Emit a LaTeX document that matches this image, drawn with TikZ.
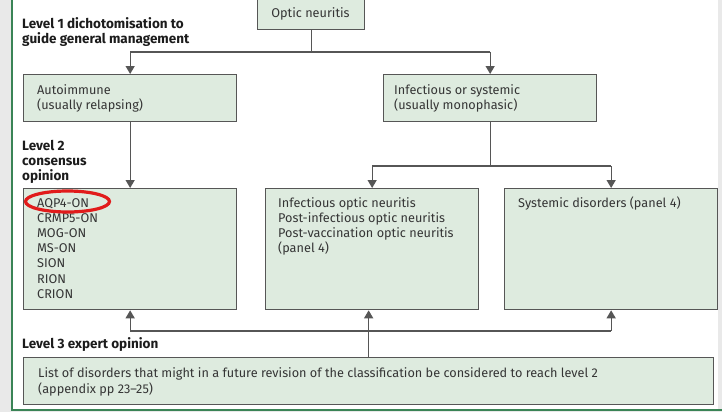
\documentclass[tikz,border=0pt]{standalone}
\usepackage{fontspec}
\setmainfont{Fira Sans}
\usetikzlibrary{arrows.meta}
\definecolor{boxfill}{HTML}{DEEBDF}
\definecolor{boxline}{HTML}{565656}
\definecolor{bodytext}{HTML}{353535}
\definecolor{headtext}{HTML}{1C1C1C}
\definecolor{frame}{HTML}{3A8456}
\definecolor{pagegrey}{HTML}{E9E9E9}
\definecolor{marker}{HTML}{E11B1B}
\tikzset{
  % multi-line nodes are placed by the baseline of their last line
  box/.style={draw=boxline, fill=boxfill, line width=1.3pt, anchor=north west, inner sep=0pt},
  body/.style={anchor=base west, inner sep=0pt, align=left, text=bodytext,
    font=\fontsize{12.7}{15.2}\selectfont},
  head/.style={anchor=base west, inner sep=0pt, align=left, text=headtext,
    font=\fontsize{13.5}{15}\selectfont\bfseries},
  conn/.style={draw=boxline, line width=1.3pt},
  tip/.style={-{Triangle[width=9pt,length=8pt]}},
}
\begin{document}
\begin{tikzpicture}[x=1pt,y=-1pt]
\clip (0,0) rectangle (722,412);
% page background and frame
\fill[pagegrey] (0,0) rectangle (722,412);
\fill[white] (12,0) rectangle (718,410);
\draw[frame, line width=1.2pt] (12,0) -- (12,410) -- (722,410);

% boxes
\node[box, minimum width=107pt, minimum height=34pt] (optic) at (257,-5) {};
\node[box, minimum width=213pt, minimum height=47pt] (auto) at (23,74) {};
\node[box, minimum width=213pt, minimum height=47pt] (infsys) at (383,74) {};
\node[box, minimum width=213pt, minimum height=121pt] (lvtwo) at (23,188) {};
\node[box, minimum width=213pt, minimum height=121pt] (infect) at (265,188) {};
\node[box, minimum width=213pt, minimum height=121pt] (system) at (504,188) {};
\node[box, minimum width=690pt, minimum height=47pt] (lvthree) at (23,357) {};

% box texts
\node[body, anchor=base] (optict) at (310.5,18) {Optic neuritis};
\node[body] (autot) at (37,109.2) {Autoimmune\\(usually relapsing)};
\node[body] (infsyst) at (394,109.2) {Infectious or systemic\\(usually monophasic)};
\node[body] (lvtwot) at (37,298.2) {AQP4-ON\\CRMP5-ON\\MOG-ON\\MS-ON\\SION\\RION\\CRION};
\node[body] (infectt) at (278,252.6) {Infectious optic neuritis\\Post-infectious optic neuritis\\Post-vaccination optic neuritis\\(panel 4)};
\node[body] (systemt) at (518,207) {Systemic disorders (panel 4)};
\node[body] (lvthreet) at (38,393) {List of disorders that might in a future revision of the classification be considered to reach level 2\\(appendix pp 23--25)};

% level headings
\node[head] (levone) at (22,44) {Level 1 dichotomisation to\\guide general management};
\node[head] (levtwo) at (22,180) {Level 2\\consensus\\opinion};
\node[head] (levthree) at (22,348) {Level 3 expert opinion};

% highlight ring
\draw[marker, line width=3.2pt] (67.5,201.5) ellipse [x radius=42pt, y radius=10.5pt];

% bus coordinates
\coordinate (busone) at (0,52);
\coordinate (bustwo) at (0,166);
\coordinate (busthree) at (0,331);

% connectors
\draw[conn] (optic.south) -- (optic.south |- busone);
\draw[conn, tip] (auto.north |- busone) -- (auto.north);
\draw[conn, tip] (infsys.north |- busone) -- (infsys.north);
\draw[conn] (auto.north |- busone) -- (infsys.north |- busone);

\draw[conn, tip] (auto.south) -- (lvtwo.north);

\draw[conn] (infsys.south) -- (infsys.south |- bustwo);
\draw[conn, tip] (infect.north |- bustwo) -- (infect.north);
\draw[conn, tip] (system.north |- bustwo) -- (system.north);
\draw[conn] (infect.north |- bustwo) -- (system.north |- bustwo);

\draw[conn, tip] (lvthree.north) -- (lvthree.north |- infect.south);
\draw[conn, tip] (lvtwo.south |- busthree) -- (lvtwo.south);
\draw[conn, tip] (system.south |- busthree) -- (system.south);
\draw[conn] (lvtwo.south |- busthree) -- (system.south |- busthree);
\end{tikzpicture}
\end{document}
